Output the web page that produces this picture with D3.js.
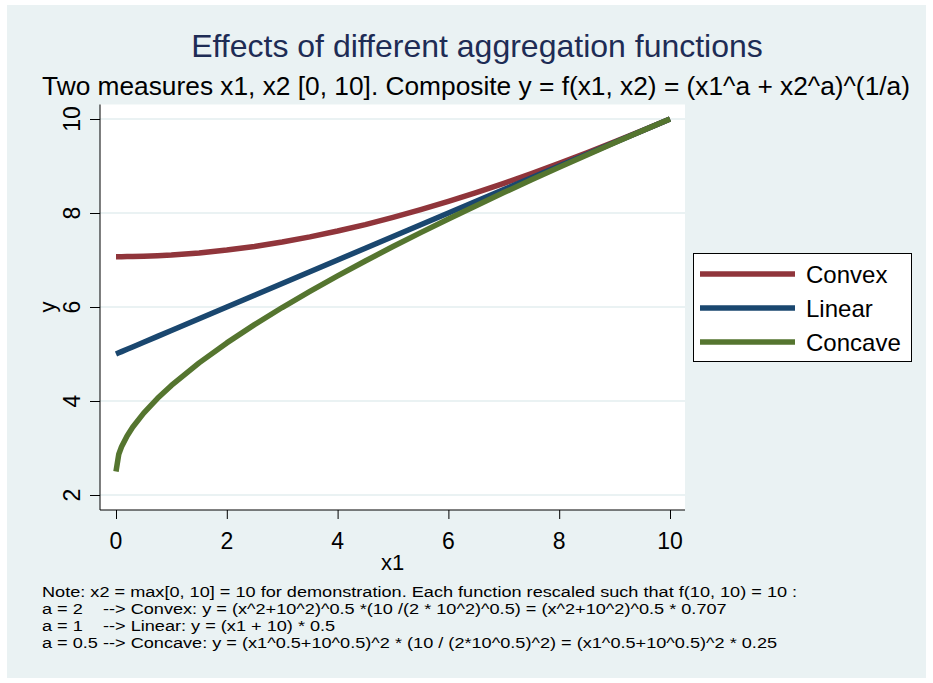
<!DOCTYPE html>
<html>
<head>
<meta charset="utf-8">
<script src="https://cdn.jsdelivr.net/npm/d3@7/dist/d3.min.js"></script>
<style>
  body { margin: 0; background: #fff; }
  text { font-family: "Liberation Sans", Arial, sans-serif; }
</style>
</head>
<body>
<div id="chart"></div>
<script>
(function(d3) {

    "use strict";

    // x1 positions the curves were read at
    var xValues = [0, 0.05, 0.1, 0.2, 0.3, 0.5, 0.75, 1, 1.5, 2, 2.5, 3, 3.5, 4, 4.5,
        5, 5.5, 6, 6.5, 7, 7.5, 8, 8.5, 9, 9.5, 10];

    var convexValues = [7.071, 7.071, 7.071, 7.074, 7.075, 7.080, 7.091, 7.106, 7.150,
        7.211, 7.289, 7.382, 7.492, 7.616, 7.754, 7.906, 8.070, 8.246, 8.433, 8.631,
        8.839, 9.055, 9.280, 9.513, 9.753, 10.000];

    var linearValues = [5.000, 5.025, 5.050, 5.100, 5.150, 5.250, 5.375, 5.500, 5.750,
        6.000, 6.250, 6.500, 6.750, 7.000, 7.250, 7.500, 7.750, 8.000, 8.250, 8.500,
        8.750, 9.000, 9.250, 9.500, 9.750, 10.000];

    var concaveValues = [2.500, 2.866, 3.025, 3.257, 3.441, 3.743, 4.057, 4.331, 4.811,
        5.236, 5.625, 5.989, 6.333, 6.662, 6.979, 7.286, 7.583, 7.873, 8.156, 8.434,
        8.705, 8.972, 9.235, 9.493, 9.748, 10.000];

    var seriesNames = ["Convex", "Linear", "Concave"];
    var xTicks = [0, 2, 4, 6, 8, 10];
    var yTicks = [2, 4, 6, 8, 10];

    var titleText = "Effects of different aggregation functions";
    var subtitleText = "Two measures x1, x2 [0, 10]. Composite y = f(x1, x2) = (x1^a + x2^a)^(1/a)";
    var noteLines = [
        "Note: x2 = max[0, 10] = 10 for demonstration. Each function rescaled such that f(10, 10) = 10 :",
        "a = 2    --> Convex: y = (x^2+10^2)^0.5 *(10 /(2 * 10^2)^0.5) = (x^2+10^2)^0.5 * 0.707",
        "a = 1    --> Linear: y = (x1 + 10) * 0.5",
        "a = 0.5 --> Concave: y = (x1^0.5+10^0.5)^2 * (10 / (2*10^0.5)^2) = (x1^0.5+10^0.5)^2 * 0.25"
    ];

    var colors = ["#90353b", "#1a476f", "#55752f"];
    var bg = "#eaf2f3";

    var width = 933,
        height = 683,
        plot = { left: 100, right: 685, top: 104.5, bottom: 510 };

    var svg = d3.select("#chart")
        .append("svg")
        .attr("width", width)
        .attr("height", height);

    // graph region
    svg.append("rect")
        .attr("x", 7).attr("y", 5)
        .attr("width", 919).attr("height", 673)
        .style("fill", bg);

    // plot region
    svg.append("rect")
        .attr("x", plot.left).attr("y", plot.top)
        .attr("width", plot.right - plot.left)
        .attr("height", plot.bottom - plot.top)
        .style("fill", "#fff");

    var x = d3.scaleLinear().domain([0, 10]).range([116, 670]);
    var y = d3.scaleLinear().domain([2, 10]).range([495, 119]);

    // grid lines
    svg.append("g")
        .selectAll("line")
        .data(yTicks)
        .enter()
        .append("line")
        .attr("x1", plot.left).attr("x2", plot.right)
        .attr("y1", y).attr("y2", y)
        .style("stroke", bg)
        .style("stroke-width", 2);

    // curves
    var series = [convexValues, linearValues, concaveValues];
    var line = d3.line()
        .x(function(d, i) { return x(xValues[i]); })
        .y(function(d) { return y(d); });

    svg.append("g")
        .selectAll("path")
        .data(series)
        .enter()
        .append("path")
        .attr("d", line)
        .style("fill", "none")
        .style("stroke", function(d, i) { return colors[i]; })
        .style("stroke-width", 5.5)
        .style("stroke-linejoin", "round");

    // y axis
    var yAxis = svg.append("g")
        .attr("transform", "translate(" + plot.left + ",0)")
        .call(d3.axisLeft(y).tickValues(yTicks).tickSize(10).tickSizeOuter(0).tickFormat(""));
    yAxis.select(".domain").attr("d", "M0," + plot.top + "V" + plot.bottom);
    yAxis.selectAll("line, path").style("stroke", "#000");

    svg.append("g")
        .selectAll("text")
        .data(yTicks)
        .enter()
        .append("text")
        .attr("transform", function(d) { return "translate(80," + y(d) + ") rotate(-90)"; })
        .attr("text-anchor", "middle")
        .style("font-size", "23px")
        .text(function(d) { return d; });

    svg.append("text")
        .attr("transform", "translate(55," + y(6) + ") rotate(-90)")
        .attr("text-anchor", "middle")
        .style("font-size", "22px")
        .text("y");

    // x axis
    var xAxis = svg.append("g")
        .attr("transform", "translate(0," + plot.bottom + ")")
        .call(d3.axisBottom(x).tickValues(xTicks).tickSize(9).tickSizeOuter(0).tickFormat(""));
    xAxis.select(".domain").attr("d", "M" + plot.left + ",0H" + plot.right);
    xAxis.selectAll("line, path").style("stroke", "#000");

    svg.append("g")
        .selectAll("text")
        .data(xTicks)
        .enter()
        .append("text")
        .attr("x", x)
        .attr("y", 549)
        .attr("text-anchor", "middle")
        .style("font-size", "23px")
        .text(function(d) { return d; });

    svg.append("text")
        .attr("x", (plot.left + plot.right) / 2)
        .attr("y", 570)
        .attr("text-anchor", "middle")
        .style("font-size", "22px")
        .text("x1");

    // titles
    svg.append("text")
        .attr("x", 477).attr("y", 57)
        .attr("text-anchor", "middle")
        .style("font-size", "32px")
        .style("fill", "#1e2c55")
        .text(titleText);

    svg.append("text")
        .attr("x", 476).attr("y", 95)
        .attr("text-anchor", "middle")
        .style("font-size", "26.3px")
        .text(subtitleText);

    // legend
    var legend = svg.append("g");
    legend.append("rect")
        .attr("x", 693.5).attr("y", 253.5)
        .attr("width", 218).attr("height", 108)
        .style("fill", "#fff")
        .style("stroke", "#000")
        .style("stroke-width", 1);

    var entry = legend.selectAll(".entry")
        .data(seriesNames)
        .enter()
        .append("g")
        .attr("class", "entry")
        .attr("transform", function(d, i) { return "translate(0," + (274 + i * 34) + ")"; });

    entry.append("line")
        .attr("x1", 700).attr("x2", 795)
        .style("stroke", function(d, i) { return colors[i]; })
        .style("stroke-width", 5.5);

    entry.append("text")
        .attr("x", 806).attr("y", 8.5)
        .style("font-size", "24px")
        .text(function(d) { return d; });

    // note: the reference font is narrow, so stretch a smaller size sideways
    svg.append("g")
        .attr("transform", "translate(42,0) scale(1.17,1)")
        .selectAll("text")
        .data(noteLines)
        .enter()
        .append("text")
        .attr("x", 0)
        .attr("y", function(d, i) { return 597 + i * 17; })
        .style("font-size", "15.5px")
        .style("white-space", "pre")
        .text(function(d) { return d; });

})(d3);
</script>
</body>
</html>
